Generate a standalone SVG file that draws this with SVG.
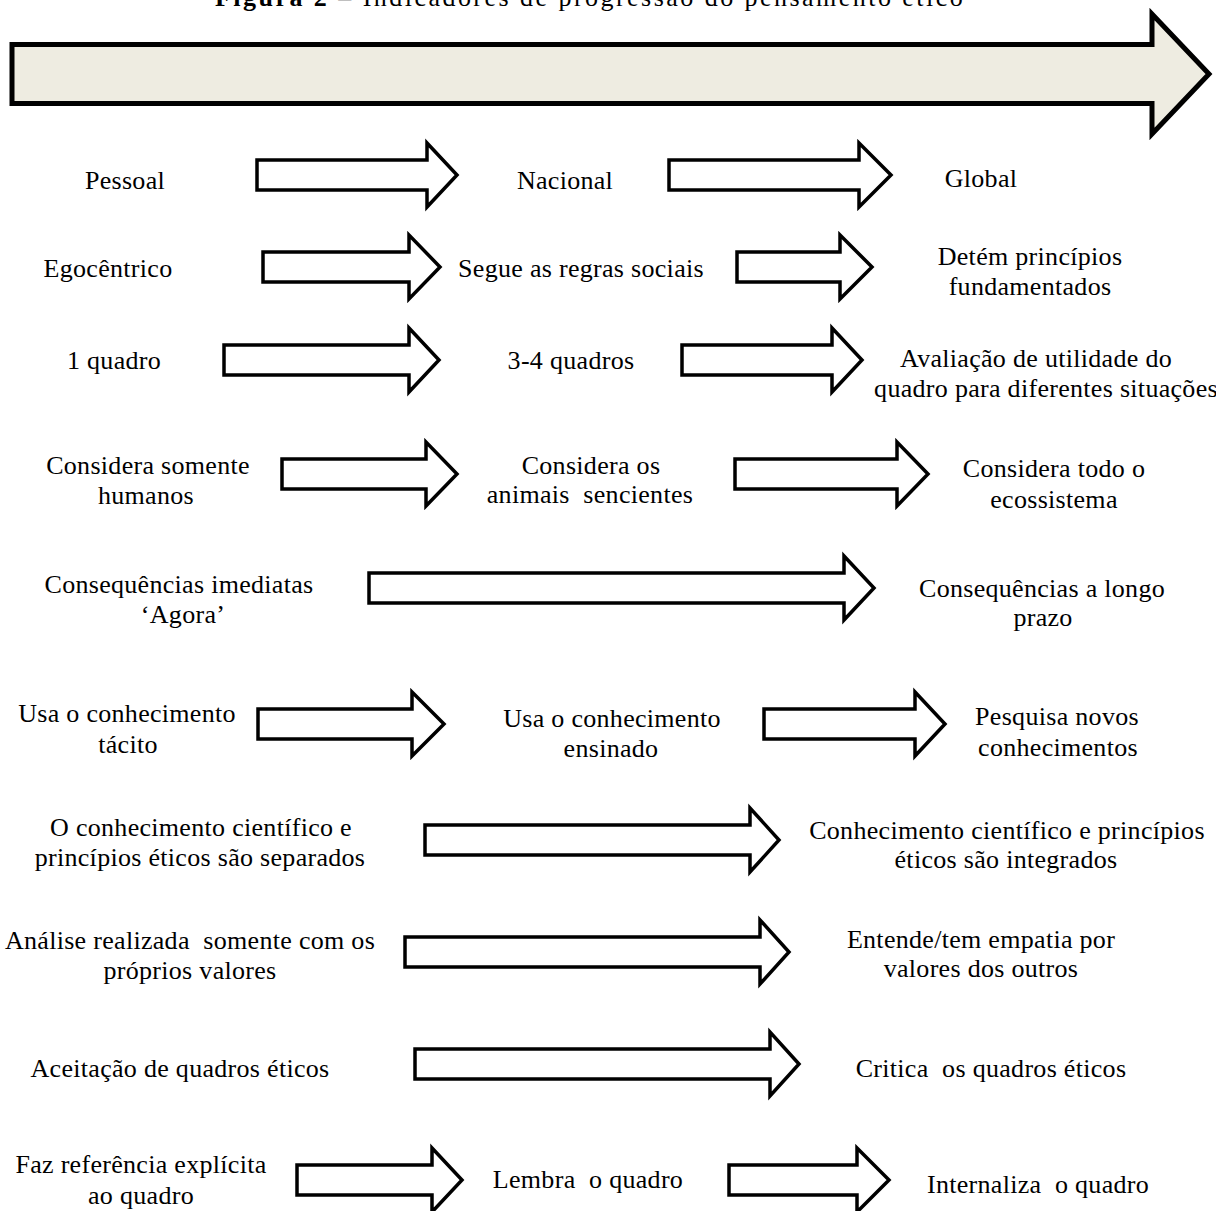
<svg xmlns="http://www.w3.org/2000/svg" width="1216" height="1211" viewBox="0 0 1216 1211">
<style>
text{font-family:"Liberation Serif","Times New Roman",serif;font-size:26px;fill:#000;letter-spacing:0.3px;white-space:pre}
.c{text-anchor:middle}
.arr{fill:#fff;stroke:#000;stroke-width:3.5;stroke-linejoin:miter}
.big{fill:#EEECE1;stroke:#000;stroke-width:5;stroke-linejoin:miter}
</style>
<g id="title">
<text x="215" y="6" textLength="748" lengthAdjust="spacing"><tspan font-weight="bold">Figura 2</tspan> – Indicadores de progressão do pensamento ético</text>
</g>
<g id="main-arrow">
<path class="big" d="M12,44.5 H1152 V14 L1209,74 L1152,134 V103.5 H12 Z"/>
</g>
<g id="connectors">
<path class="arr" d="M257,160 H427 V143 L457,175 L427,207 V190 H257 Z"/>
<path class="arr" d="M669,160 H859 V143 L891,175 L859,207 V190 H669 Z"/>
<path class="arr" d="M263,252 H409 V235 L440,267 L409,299 V282 H263 Z"/>
<path class="arr" d="M737,252 H840 V235 L872,267 L840,299 V282 H737 Z"/>
<path class="arr" d="M224,345 H409 V328 L439,360 L409,392 V375 H224 Z"/>
<path class="arr" d="M682,345 H832 V328 L862,360 L832,392 V375 H682 Z"/>
<path class="arr" d="M282,459 H426 V442 L457,474 L426,506 V489 H282 Z"/>
<path class="arr" d="M735,459 H897 V442 L928,474 L897,506 V489 H735 Z"/>
<path class="arr" d="M369,573 H844 V556 L874,588 L844,620 V603 H369 Z"/>
<path class="arr" d="M258,709 H412 V692 L444,724 L412,756 V739 H258 Z"/>
<path class="arr" d="M764,709 H915 V692 L945,724 L915,756 V739 H764 Z"/>
<path class="arr" d="M425,825 H750 V808 L779,840 L750,872 V855 H425 Z"/>
<path class="arr" d="M405,937 H760 V920 L789,952 L760,984 V967 H405 Z"/>
<path class="arr" d="M415,1049 H770 V1032 L799,1064 L770,1096 V1079 H415 Z"/>
<path class="arr" d="M297,1165 H432 V1148 L462,1180 L432,1212 V1195 H297 Z"/>
<path class="arr" d="M729,1165 H857 V1148 L889,1180 L857,1212 V1195 H729 Z"/>
</g>
<g id="n-pessoal"><text class="c" x="125" y="189">Pessoal</text></g>
<g id="n-nacional"><text class="c" x="565" y="189">Nacional</text></g>
<g id="n-global"><text class="c" x="981" y="187">Global</text></g>
<g id="n-egocentrico"><text class="c" x="108" y="277">Egocêntrico</text></g>
<g id="n-regras"><text class="c" x="581" y="277">Segue as regras sociais</text></g>
<g id="n-principios"><text class="c" x="1030" y="265">Detém princípios</text><text class="c" x="1030" y="295">fundamentados</text></g>
<g id="n-1quadro"><text class="c" x="114" y="369">1 quadro</text></g>
<g id="n-34quadros"><text class="c" x="571" y="369">3-4 quadros</text></g>
<g id="n-avaliacao"><text class="c" x="1036" y="367">Avaliação de utilidade do</text><text class="c" x="1046" y="397">quadro para diferentes situações</text></g>
<g id="n-humanos"><text class="c" x="148" y="474">Considera somente</text><text class="c" x="146" y="504">humanos</text></g>
<g id="n-animais"><text class="c" x="591" y="474">Considera os</text><text class="c" x="590" y="503">animais  sencientes</text></g>
<g id="n-ecossistema"><text class="c" x="1054" y="477">Considera todo o</text><text class="c" x="1054" y="508">ecossistema</text></g>
<g id="n-imediatas"><text class="c" x="179" y="593">Consequências imediatas</text><text class="c" x="183" y="623">‘Agora’</text></g>
<g id="n-longo"><text class="c" x="1042" y="597">Consequências a longo</text><text class="c" x="1043" y="626">prazo</text></g>
<g id="n-tacito"><text class="c" x="127" y="722">Usa o conhecimento</text><text class="c" x="128" y="753">tácito</text></g>
<g id="n-ensinado"><text class="c" x="612" y="727">Usa o conhecimento</text><text class="c" x="611" y="757">ensinado</text></g>
<g id="n-pesquisa"><text class="c" x="1057" y="725">Pesquisa novos</text><text class="c" x="1058" y="756">conhecimentos</text></g>
<g id="n-separados"><text class="c" x="201" y="836">O conhecimento científico e</text><text class="c" x="200" y="866">princípios éticos são separados</text></g>
<g id="n-integrados"><text class="c" x="1007" y="839">Conhecimento científico e princípios</text><text class="c" x="1006" y="868">éticos são integrados</text></g>
<g id="n-proprios"><text class="c" x="190" y="949">Análise realizada  somente com os</text><text class="c" x="190" y="979">próprios valores</text></g>
<g id="n-empatia"><text class="c" x="981" y="948">Entende/tem empatia por</text><text class="c" x="981" y="977">valores dos outros</text></g>
<g id="n-aceitacao"><text class="c" x="180" y="1077">Aceitação de quadros éticos</text></g>
<g id="n-critica"><text class="c" x="991" y="1077">Critica  os quadros éticos</text></g>
<g id="n-referencia"><text class="c" x="141" y="1173">Faz referência explícita</text><text class="c" x="141" y="1204">ao quadro</text></g>
<g id="n-lembra"><text class="c" x="588" y="1188">Lembra  o quadro</text></g>
<g id="n-internaliza"><text class="c" x="1038" y="1193">Internaliza  o quadro</text></g>
</svg>
